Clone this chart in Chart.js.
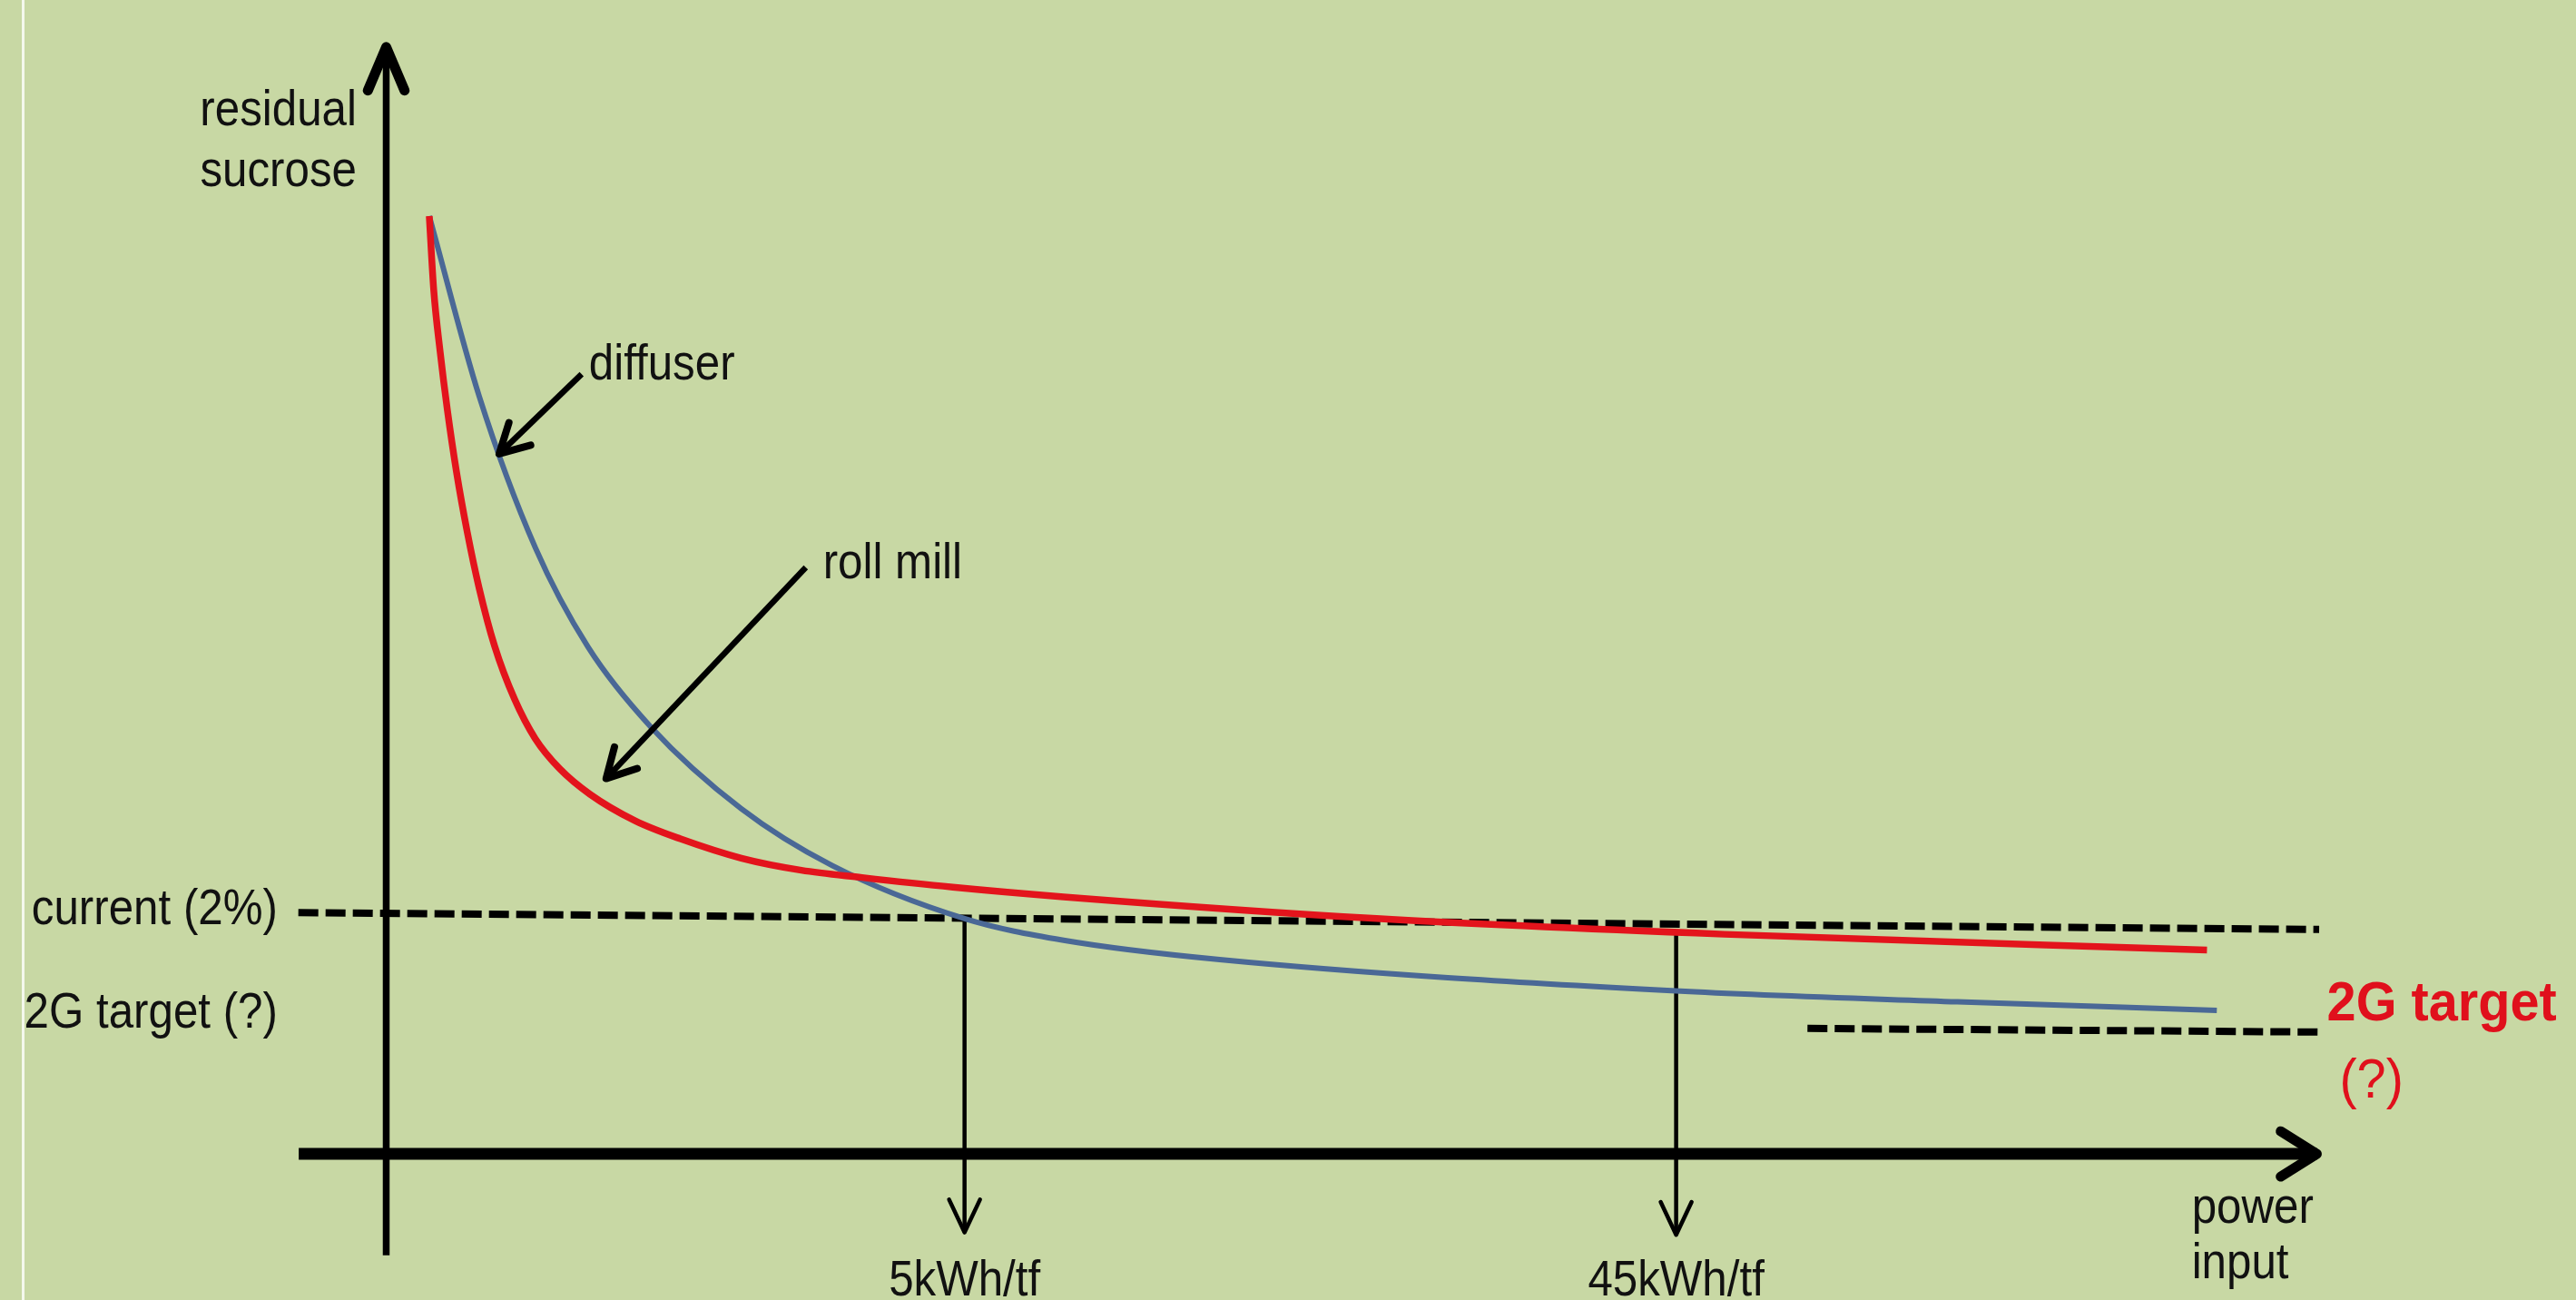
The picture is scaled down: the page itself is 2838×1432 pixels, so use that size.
<!DOCTYPE html>
<html lang="en">
<head>
  <meta charset="UTF-8" />
  <title>Residual sucrose vs power input</title>
  <script src="https://cdn.jsdelivr.net/npm/chart.js"></script>
  <style>
    html, body { margin: 0; padding: 0; background: #c8d8a4; overflow: hidden; }
    .chart-box { width: 2838px; height: 1432px; position: relative; }
  </style>
</head>
<body>
  <div class="chart-box">
    <canvas id="sucroseChart"></canvas>
  </div>

  <script>
    // power input (arbitrary units, y axis at 0) / residual sucrose (%)
    const rollMillX = [2.23, 2.46, 2.79, 3.17, 3.64, 4.20, 4.81, 5.61, 6.64, 7.72, 8.99, 10.55, 12.89, 15.24, 18.39, 21.50, 24.64, 29.34, 35.08, 51.29, 69.29, 94.29];
    const rollMillY = [7.77, 7.16, 6.65, 6.16, 5.65, 5.15, 4.69, 4.21, 3.77, 3.44, 3.19, 2.98, 2.76, 2.61, 2.45, 2.35, 2.29, 2.21, 2.13, 1.95, 1.82, 1.69];

    const diffuserX = [2.23, 4.81, 7.73, 10.45, 13.69, 18.39, 23.09, 29.95, 35.08, 43.16, 66.80, 81.37, 94.80];
    const diffuserY = [7.77, 6.28, 5.02, 4.20, 3.54, 2.86, 2.39, 1.95, 1.77, 1.61, 1.35, 1.26, 1.19];

    // reference levels (dashed)
    const currentX = [-4.55, 100.1];
    const currentY = [2.00, 1.86];
    const targetX = [73.6, 100.1];
    const targetY = [1.04, 1.01];

    // energy markers dropped to the x axis
    const markerLabels = ['5kWh/tf', '45kWh/tf'];
    const markerX = [29.95, 66.8];
    const markerTopY = [1.95, 1.85];
    const markerBottomY = [-0.65, -0.67];

    const toPoints = (xs, ys) => xs.map((x, i) => ({ x: x, y: ys[i] }));

    const datasets = [
      {
        label: 'roll mill',
        data: toPoints(rollMillX, rollMillY),
        borderColor: '#e3141c',
        borderWidth: 7.5,
        cubicInterpolationMode: 'monotone'
      },
      {
        label: 'diffuser',
        data: toPoints(diffuserX, diffuserY),
        borderColor: '#4a6896',
        borderWidth: 6,
        cubicInterpolationMode: 'monotone'
      },
      {
        label: 'current',
        data: toPoints(currentX, currentY),
        borderColor: '#000',
        borderWidth: 8,
        borderDash: [22, 8]
      },
      {
        label: 'target',
        data: toPoints(targetX, targetY),
        borderColor: '#000',
        borderWidth: 8,
        borderDash: [22, 8]
      }
    ];
    markerX.forEach((x, i) => {
      datasets.push({
        label: markerLabels[i],
        data: [{ x: x, y: markerTopY[i] }, { x: x, y: markerBottomY[i] }],
        borderColor: '#000',
        borderWidth: 4.5,
        isMarker: true
      });
    });

    function head(ctx, x, y, angle, len, half, width) {
      ctx.save();
      ctx.lineWidth = width;
      ctx.lineCap = 'round';
      ctx.lineJoin = 'round';
      ctx.strokeStyle = '#000';
      ctx.beginPath();
      ctx.moveTo(x - len * Math.cos(angle - half), y - len * Math.sin(angle - half));
      ctx.lineTo(x, y);
      ctx.lineTo(x - len * Math.cos(angle + half), y - len * Math.sin(angle + half));
      ctx.stroke();
      ctx.restore();
    }

    function arrow(ctx, x1, y1, x2, y2, width, len, half, headWidth) {
      ctx.save();
      ctx.strokeStyle = '#000';
      ctx.lineWidth = width;
      ctx.beginPath();
      ctx.moveTo(x1, y1);
      ctx.lineTo(x2, y2);
      ctx.stroke();
      ctx.restore();
      head(ctx, x2, y2, Math.atan2(y2 - y1, x2 - x1), len, half, headWidth || width);
    }

    function text(ctx, str, x, y, opts) {
      ctx.save();
      ctx.translate(x, y);
      ctx.scale(opts.sx || 0.88, 1);
      ctx.font = (opts.bold ? 'bold ' : '') + (opts.size || 56) + 'px "Liberation Sans", Arial, sans-serif';
      ctx.fillStyle = opts.color || '#111';
      ctx.textAlign = opts.align || 'left';
      ctx.textBaseline = 'alphabetic';
      ctx.fillText(str, 0, 0);
      ctx.restore();
    }

    // callouts: [text, textX, textY, fromX, fromY, toX, toY]
    const callouts = [
      ['diffuser', 10.5, 6.42, 10.12, 6.46, 5.85, 5.80],
      ['roll mill', 22.62, 4.77, 21.73, 4.86, 11.39, 3.11]
    ];

    const sketchPlugin = {
      id: 'sketch',
      beforeDraw(chart) {
        const ctx = chart.ctx;
        ctx.save();
        ctx.fillStyle = '#c8d8a4';
        ctx.fillRect(0, 0, chart.width, chart.height);
        ctx.fillStyle = '#f4f8ec';
        ctx.fillRect(24, 0, 3, chart.height);
        ctx.restore();
      },
      afterDatasetsDraw(chart) {
        const ctx = chart.ctx;
        const sx = chart.scales.x, sy = chart.scales.y;
        const px = v => sx.getPixelForValue(v);
        const py = v => sy.getPixelForValue(v);

        // axes
        arrow(ctx, px(0), py(-0.84), px(0), py(9.17), 7.5, 52, 0.40, 11);
        arrow(ctx, px(-4.53), py(0), px(99.98), py(0), 13, 47, 0.56, 11);

        // marker arrowheads + labels
        chart.data.datasets.forEach((ds, i) => {
          if (!ds.isMarker) return;
          const pts = chart.getDatasetMeta(i).data;
          const end = pts[pts.length - 1];
          head(ctx, end.x, end.y, Math.PI / 2, 40, 0.44, 4.5);
          text(ctx, ds.label, end.x, py(-1.17), { align: 'center' });
        });

        // callout arrows
        callouts.forEach(c => {
          arrow(ctx, px(c[3]), py(c[4]), px(c[5]), py(c[6]), 6.5, 36, 0.5, 8);
          text(ctx, c[0], px(c[1]), py(c[2]), {});
        });

        // axis titles
        text(ctx, 'residual', px(-1.53), py(8.52), { align: 'right' });
        text(ctx, 'sucrose', px(-1.53), py(8.02), { align: 'right' });
        text(ctx, 'power', px(93.5), py(-0.57), {});
        text(ctx, 'input', px(93.5), py(-1.03), {});

        // level labels
        text(ctx, 'current (2%)', px(-5.62), py(1.90), { align: 'right' });
        text(ctx, '2G target (?)', px(-5.62), py(1.05), { align: 'right' });
        text(ctx, '2G target', px(100.5), py(1.11), { bold: true, size: 62, sx: 0.93, color: '#e0101c' });
        text(ctx, '(?)', px(101.15), py(0.47), { size: 62, sx: 0.93, color: '#e0101c' });
      }
    };

    const ctx = document.getElementById('sucroseChart').getContext('2d');
    new Chart(ctx, {
      type: 'scatter',
      data: { datasets: datasets },
      options: {
        responsive: true,
        maintainAspectRatio: false,
        animation: false,
        showLine: true,
        elements: { point: { radius: 0, hoverRadius: 0 }, line: { fill: false } },
        layout: { padding: 0 },
        scales: {
          x: { type: 'linear', min: -20, max: 113.4, display: false },
          y: { type: 'linear', min: -1.21, max: 9.56, display: false }
        },
        plugins: {
          legend: { display: false },
          tooltip: { enabled: false }
        }
      },
      plugins: [sketchPlugin]
    });
  </script>
</body>
</html>
